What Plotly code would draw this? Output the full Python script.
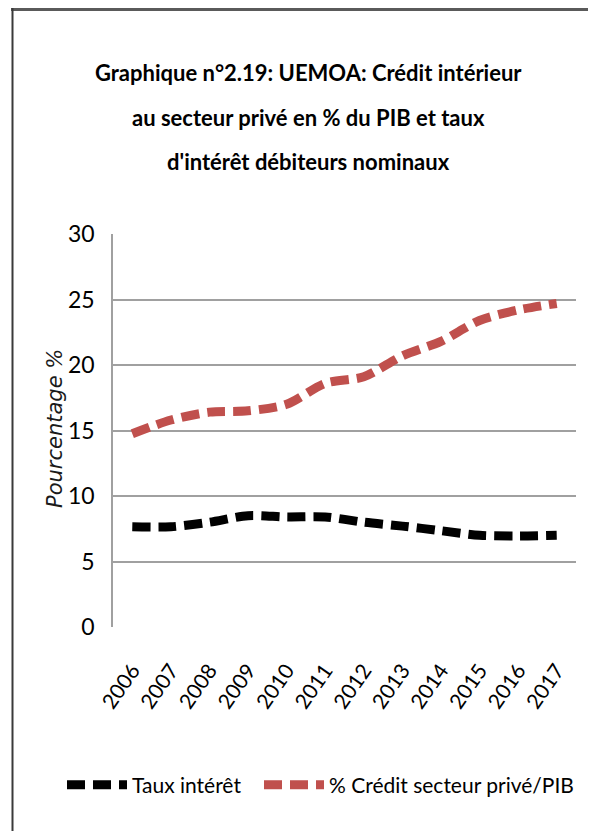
import plotly.graph_objects as go

years = ["2006", "2007", "2008", "2009", "2010", "2011", "2012", "2013", "2014", "2015", "2016", "2017"]
taux_interet = [7.65, 7.65, 8.0, 8.5, 8.4, 8.4, 8.0, 7.7, 7.35, 7.0, 6.95, 7.0]
credit_prive_pib = [14.75, 15.8, 16.4, 16.5, 17.0, 18.6, 19.1, 20.7, 21.8, 23.4, 24.2, 24.7]
y_ticks = [0, 5, 10, 15, 20, 25, 30]
title_lines = ["Graphique n°2.19: UEMOA: Crédit intérieur",
               "au secteur privé en % du PIB et taux",
               "d'intérêt débiteurs nominaux"]

FONT = "Lato, Liberation Sans, sans-serif"

# page body has an 8px default margin: the figure is drawn 8px in from the window edge
OFF = 8
W, H = 596 - 2 * OFF, 839 - 2 * OFF
# plot area in window pixels: x 113..576, y 234..627
L, R = 113 - OFF, W - (576 - OFF)
T, B = 234 - OFF, H - (627 - OFF)
pw, ph = W - L - R, H - T - B


def px_x(x):
    return (x - OFF - L) / pw


def px_y(y):
    return (H - B - (y - OFF)) / ph


fig = go.Figure()
fig.add_trace(go.Scatter(
    x=years, y=taux_interet, name="Taux intérêt", mode="lines", legend="legend",
    line=dict(color="#000000", width=9, dash="18px,8px", shape="spline", smoothing=0.8),
))
fig.add_trace(go.Scatter(
    x=years, y=credit_prive_pib, name="% Crédit secteur privé/PIB", mode="lines", legend="legend2",
    line=dict(color="#C0504D", width=9, dash="18px,8px", shape="spline", smoothing=0.8),
))

annotations = []
for line, yy in zip(title_lines, [72, 117, 162]):
    annotations.append(dict(
        text="<b>" + line + "</b>", xref="paper", yref="paper",
        x=px_x(308), y=px_y(yy), xanchor="center", yanchor="middle",
        showarrow=False, font=dict(family=FONT, size=22, color="#000000"),
    ))
annotations.append(dict(
    text="Pourcentage %", xref="paper", yref="paper",
    x=px_x(55), y=px_y(429), xanchor="center", yanchor="middle",
    textangle=-90, showarrow=False,
    font=dict(family="DejaVu Sans", size=21, color="#1a1a1a", style="italic"),
))

legend_common = dict(
    orientation="v", yref="paper", y=px_y(785), xanchor="left", yanchor="middle",
    font=dict(family=FONT, size=21, color="#000000"),
    itemwidth=60, bgcolor="rgba(0,0,0,0)", borderwidth=0,
)

frame_color = "#5a5a5a"
fig.update_layout(
    width=W, height=H,
    margin=dict(l=L, r=R, t=T, b=B, autoexpand=False),
    paper_bgcolor="white", plot_bgcolor="white",
    font=dict(family=FONT, color="#000000"),
    showlegend=True,
    legend=dict(legend_common, x=px_x(62)),
    legend2=dict(legend_common, x=px_x(259)),
    annotations=annotations,
    shapes=[
        dict(type="line", xref="paper", yref="paper",
             x0=px_x(11), x1=px_x(700), y0=px_y(9), y1=px_y(9),
             line=dict(color=frame_color, width=4), layer="below"),
        dict(type="line", xref="paper", yref="paper",
             x0=px_x(12.5), x1=px_x(12.5), y0=px_y(7), y1=px_y(950),
             line=dict(color="#3a3a3a", width=2), layer="below"),
    ],
)

fig.update_xaxes(
    type="category", range=[-0.5, len(years) - 0.5], tickangle=-55,
    showgrid=False, showline=False, zeroline=False,
    ticks="", ticklabelstandoff=26,
    tickfont=dict(family=FONT, size=21, color="#000000"),
)
fig.update_yaxes(
    range=[0, 30], tickvals=y_ticks, showgrid=True, gridcolor="#A0A0A0", gridwidth=1.5,
    showline=True, linecolor="#A0A0A0", linewidth=1.5, zeroline=False,
    ticks="", ticklabelstandoff=12,
    tickfont=dict(family=FONT, size=23, color="#000000"),
)

fig.write_html("out.html")
